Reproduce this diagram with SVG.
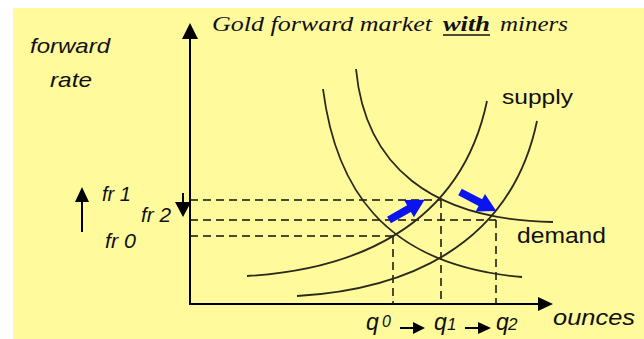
<svg xmlns="http://www.w3.org/2000/svg" width="644" height="339" viewBox="0 0 644 339">
<style>
.crv{fill:none;stroke:#2a2a1a;stroke-width:1.8}
.dash{fill:none;stroke:#111;stroke-width:1.5;stroke-dasharray:8 5}
.ax{fill:none;stroke:#000;stroke-width:2}
.it{font-family:"Liberation Sans",Arial,sans-serif;font-style:italic;fill:#111}
.rg{font-family:"Liberation Sans",Arial,sans-serif;fill:#111}
.ttl{font-family:"Liberation Serif","Times New Roman",serif;font-style:italic;fill:#111}
</style>
<defs>
<path id="blueArrow" d="M0,-3.8 L23,-3.8 L23,-10 L41,0 L23,10 L23,3.8 L0,3.8 Z" fill="#0a14f0"/>
</defs>
<rect x="0" y="0" width="644" height="339" fill="#ffffff"/>
<rect x="13" y="8" width="631" height="331" fill="#FFFA9C"/>

<g id="title">
<text class="ttl" x="212" y="31" font-size="20" textLength="220" lengthAdjust="spacingAndGlyphs">Gold forward market</text>
<text class="ttl" x="443" y="31" font-size="20" font-weight="bold" textLength="47" lengthAdjust="spacingAndGlyphs">with</text>
<line x1="443" y1="35" x2="490" y2="35" stroke="#111" stroke-width="1.5"/>
<text class="ttl" x="500" y="31" font-size="20" textLength="68" lengthAdjust="spacingAndGlyphs">miners</text>
</g>

<g id="y-label">
<text class="it" x="30" y="53" font-size="21" textLength="80" lengthAdjust="spacingAndGlyphs">forward</text>
<text class="it" x="50" y="87" font-size="21" textLength="42" lengthAdjust="spacingAndGlyphs">rate</text>
</g>

<g id="axes">
<line class="ax" x1="190" y1="36" x2="190" y2="304"/>
<polygon points="190,23 182,39 198,39" fill="#000"/>
<line class="ax" x1="189" y1="304" x2="540" y2="304"/>
<polygon points="553,304 538,297 538,311" fill="#000"/>
</g>

<g id="connectors">
<line class="dash" x1="190" y1="200" x2="441" y2="200"/>
<line class="dash" x1="190" y1="220" x2="496" y2="220"/>
<line class="dash" x1="190" y1="236" x2="393" y2="236"/>
<line class="dash" x1="393" y1="236" x2="393" y2="304"/>
<line class="dash" x1="441" y1="200" x2="441" y2="304"/>
<line class="dash" x1="496" y1="220" x2="496" y2="304"/>
</g>

<g id="demand1"><path class="crv" d="M323,89 C335,183 380,265 522,277"/></g>
<g id="demand2"><path class="crv" d="M356,69 C365,165 430,220 553,222"/></g>
<g id="supply1"><path class="crv" d="M247,276 C350,270 460,230 487,101"/></g>
<g id="supply2"><path class="crv" d="M297,296 C400,290 510,250 537,121"/></g>

<g id="shift-arrows">
<use href="#blueArrow" transform="translate(389,220) rotate(-29.7)"/>
<use href="#blueArrow" transform="translate(460,192) rotate(27.8)"/>
</g>

<g id="labels">
<text class="rg" x="502" y="104" font-size="21" textLength="71" lengthAdjust="spacingAndGlyphs">supply</text>
<text class="rg" x="517" y="243" font-size="22" textLength="89" lengthAdjust="spacingAndGlyphs">demand</text>
<text class="it" x="553" y="325" font-size="22" textLength="82" lengthAdjust="spacingAndGlyphs">ounces</text>
</g>

<g id="fr-labels">
<line x1="82" y1="232" x2="82" y2="200" stroke="#000" stroke-width="2"/>
<polygon points="82,187 75,202 89,202" fill="#000"/>
<text class="it" x="102" y="201" font-size="21" textLength="29" lengthAdjust="spacingAndGlyphs">fr 1</text>
<text class="it" x="141" y="222" font-size="21" textLength="30" lengthAdjust="spacingAndGlyphs">fr 2</text>
<text class="it" x="105" y="248" font-size="21" textLength="31" lengthAdjust="spacingAndGlyphs">fr 0</text>
<line x1="183" y1="193" x2="183" y2="204" stroke="#000" stroke-width="2"/>
<polygon points="183,217 175,202 191,202" fill="#000"/>
</g>

<g id="q-labels">
<text class="it" x="366" y="330" font-size="23">q</text>
<text class="it" x="382" y="327" font-size="16">0</text>
<text class="it" x="434" y="330" font-size="23">q</text>
<text class="it" x="447" y="330" font-size="17">1</text>
<text class="it" x="496" y="330" font-size="23">q</text>
<text class="it" x="508" y="330" font-size="17">2</text>
<line x1="400" y1="328" x2="414" y2="328" stroke="#000" stroke-width="2"/>
<polygon points="425,328 413,322 413,334" fill="#000"/>
<line x1="465" y1="328" x2="479" y2="328" stroke="#000" stroke-width="2"/>
<polygon points="491,328 478,322 478,334" fill="#000"/>
</g>
</svg>
